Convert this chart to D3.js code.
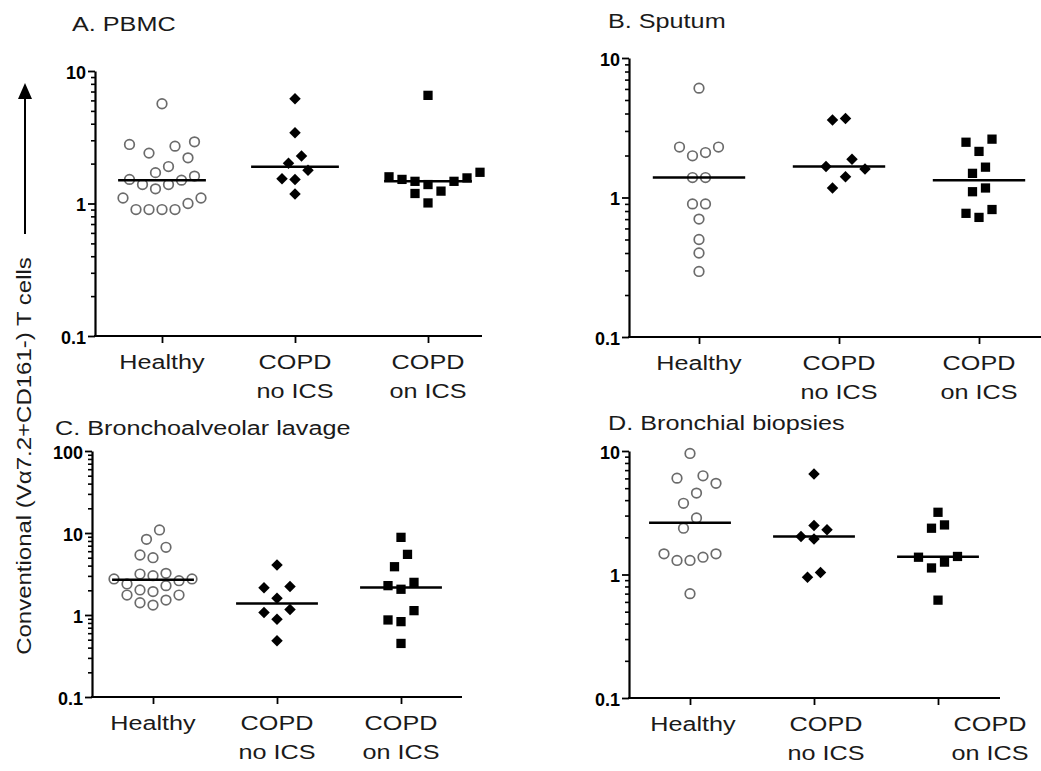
<!DOCTYPE html>
<html>
<head>
<meta charset="utf-8">
<script src="https://cdn.jsdelivr.net/npm/d3@7"></script>
<style>
body { margin: 0; background: #fff; }
svg { display: block; font-family: Arial, "Liberation Sans", sans-serif; }
</style>
</head>
<body>
<div class="canvas"></div>
<script>
// groups on the x axis ('|' = line break)
const groups = ['Healthy', 'COPD|no ICS', 'COPD|on ICS']
const ticksTen = [0.1, 1, 10]
const ticksHundred = [0.1, 1, 10, 100]
const yLabel = 'Conventional (V\u03b17.2+CD161-) T cells'

// A. PBMC
const pbmcHealthy = [5.66, 2.79, 2.71, 2.92, 2.40, 2.21, 1.90, 1.61, 1.52, 1.71, 1.50, 1.39, 1.39, 1.29, 1.10, 1.00, 1.10, 0.90, 0.90, 0.90, 0.90]
const pbmcNoIcs = [6.18, 3.42, 2.28, 2.01, 1.78, 1.54, 1.52, 1.18]
const pbmcOnIcs = [6.55, 1.59, 1.52, 1.47, 1.47, 1.56, 1.72, 1.39, 1.24, 1.19, 1.01]

// B. Sputum
const sputumHealthy = [6.08, 2.30, 2.30, 1.99, 2.10, 1.39, 1.39, 0.90, 0.90, 0.70, 0.50, 0.40, 0.295]
const sputumNoIcs = [3.60, 3.68, 1.88, 1.60, 1.67, 1.41, 1.17]
const sputumOnIcs = [2.49, 2.62, 2.14, 1.65, 1.49, 1.17, 1.10, 0.82, 0.77, 0.72]

// C. Bronchoalveolar lavage
const balHealthy = [10.9, 8.37, 6.69, 5.39, 5.00, 3.16, 3.22, 2.75, 2.62, 2.75, 3.02, 2.28, 2.39, 2.02, 1.75, 1.93, 1.75, 1.52, 1.41, 1.32]
const balNoIcs = [4.07, 2.22, 2.15, 1.60, 1.07, 1.17, 0.885, 0.486]
const balOnIcs = [8.85, 5.49, 3.88, 2.50, 2.28, 2.06, 1.13, 0.87, 0.83, 0.45]

// D. Bronchial biopsies
const biopsyHealthy = [9.55, 6.30, 6.03, 5.47, 4.56, 3.77, 2.87, 2.37, 1.47, 1.47, 1.30, 1.30, 1.38, 0.70]
const biopsyNoIcs = [6.50, 2.49, 2.30, 2.03, 1.94, 1.04, 0.95]
const biopsyOnIcs = [3.19, 2.37, 2.52, 1.40, 1.38, 1.26, 1.13, 0.62]

const panels = [
  { title: 'A. PBMC', ticks: ticksTen, series: [pbmcHealthy, pbmcNoIcs, pbmcOnIcs],
    axisX: 95, top: 71, bottom: 336, xEnd: 482, first: 162, last: 428, tx: 72, ty: 31, shift: [0, 0, 0] },
  { title: 'B. Sputum', ticks: ticksTen, series: [sputumHealthy, sputumNoIcs, sputumOnIcs],
    axisX: 629, top: 58, bottom: 337, xEnd: 1041, first: 699, last: 979, tx: 608, ty: 28, shift: [0, 0, 0] },
  { title: 'C. Bronchoalveolar lavage', ticks: ticksHundred, series: [balHealthy, balNoIcs, balOnIcs],
    axisX: 92, top: 451, bottom: 697, xEnd: 462, first: 153, last: 401, tx: 55, ty: 435, shift: [0, 0, 0] },
  { title: 'D. Bronchial biopsies', ticks: ticksTen, series: [biopsyHealthy, biopsyNoIcs, biopsyOnIcs],
    axisX: 629, top: 451, bottom: 698, xEnd: 1000, first: 690, last: 938, tx: 608, ty: 430, shift: [3, 12, 52] }
]

const wide = 1.2  // the figure's lettering runs wider than Arial

const svg = d3.select('.canvas')
  .append('svg')
  .attr('width', 1041)
  .attr('height', 771)

// spread points of similar value sideways, lowest in the middle of each row
function swarm(values, y, cx, step, near) {
  const pts = values.map(v => ({ v, py: y(v) })).sort((a, b) => b.py - a.py)
  const placed = []
  let i = 0
  while (i < pts.length) {
    let j = i + 1
    while (j < pts.length && pts[i].py - pts[j].py < near) j++
    const row = pts.slice(i, j)
    const slots = d3.range(row.length).map(k => k - (row.length - 1) / 2)
      .sort((a, b) => Math.abs(a) - Math.abs(b) || a - b)
    row.forEach((p, k) => {
      let s = slots[k]
      while (placed.some(q => Math.abs(q.s - s) < 0.9 && Math.abs(q.py - p.py) < 11)) s += s < 0 ? -1 : 1
      p.s = s
      placed.push(p)
    })
    i = j
  }
  return placed.map(p => ({ v: p.v, x: cx + p.s * step, y: p.py }))
}

const diamond = d3.symbol(d3.symbolSquare, 66)()
const square = d3.symbol(d3.symbolSquare, 86)()

panels.forEach(p => {
  const g = svg.append('g')

  const y = d3.scaleLog()
    .domain([p.ticks[0], p.ticks[p.ticks.length - 1]])
    .range([p.bottom, p.top])

  const x = d3.scalePoint()
    .domain(groups)
    .range([p.first, p.last])

  const step = x.step()

  // minor log ticks
  const minor = y.ticks().filter(t => Math.abs(Math.log10(t) - Math.round(Math.log10(t))) > 1e-6)
  g.append('g')
    .attr('transform', `translate(${p.axisX + 1}, 0)`)
    .call(d3.axisLeft(y).tickValues(minor).tickSize(5).tickFormat(''))
    .call(a => a.select('.domain').remove())
    .selectAll('line').attr('stroke-width', 1.6)

  // major ticks and axis line
  const yAxisGroup = g.append('g')
    .attr('transform', `translate(${p.axisX}, 0)`)
    .call(d3.axisLeft(y).tickValues(p.ticks).tickSize(7).tickSizeOuter(0).tickFormat(d3.format('~g')))
  yAxisGroup.select('.domain').attr('stroke-width', 2.2)
  yAxisGroup.selectAll('line').attr('stroke-width', 1.8)
  yAxisGroup.selectAll('text')
    .attr('x', -9)
    .attr('dy', '0.4em')
    .attr('font-family', 'Arial, "Liberation Sans", sans-serif')
    .attr('font-size', 18)
    .attr('font-weight', 'bold')
    .attr('fill', '#000')

  // x axis line
  g.append('line')
    .attr('x1', p.axisX - 1).attr('x2', p.xEnd)
    .attr('y1', p.bottom).attr('y2', p.bottom)
    .attr('stroke', '#000').attr('stroke-width', 2.2)

  const xAxisGroup = g.append('g')
    .attr('transform', `translate(0, ${p.bottom})`)
    .call(d3.axisBottom(x).tickSize(7).tickFormat(''))
  xAxisGroup.select('.domain').remove()
  xAxisGroup.selectAll('line').attr('stroke-width', 1.8)

  // category labels
  groups.forEach((name, i) => {
    const t = g.append('text')
      .attr('transform', `translate(${x(name) + p.shift[i]}, ${p.bottom + 33}) scale(${wide}, 1)`)
      .attr('text-anchor', 'middle')
      .attr('font-size', 21)
      .attr('fill', '#1a1a1a')
    name.split('|').forEach((line, k) => {
      t.append('tspan').attr('x', 0).attr('dy', k ? 29 : 0).text(line)
    })
  })

  // title
  g.append('text')
    .attr('transform', `translate(${p.tx}, ${p.ty}) scale(${wide}, 1)`)
    .attr('font-size', 21)
    .attr('fill', '#1a1a1a')
    .text(p.title)

  // points and medians
  p.series.forEach((vals, i) => {
    const cx = x(groups[i])
    const pts = swarm(vals, y, cx, 13, 13)

    if (i === 0) {
      g.selectAll(null).data(pts).enter()
        .append('circle')
        .attr('cx', d => d.x)
        .attr('cy', d => d.y)
        .attr('r', 4.8)
        .attr('fill', '#fff')
        .attr('stroke', '#6b6b6b')
        .attr('stroke-width', 1.7)
    } else {
      g.selectAll(null).data(pts).enter()
        .append('path')
        .attr('d', i === 1 ? diamond : square)
        .attr('transform', d => `translate(${d.x}, ${d.y})` + (i === 1 ? ' rotate(45)' : ''))
        .attr('fill', '#000')
    }

    const med = d3.median(vals)
    g.append('line')
      .attr('x1', cx - step * 0.33).attr('x2', cx + step * 0.33)
      .attr('y1', y(med)).attr('y2', y(med))
      .attr('stroke', '#000')
      .attr('stroke-width', 2.5)
  })
})

// shared y label and arrow
svg.append('text')
  .attr('transform', `translate(31, 456) rotate(-90) scale(${wide}, 1)`)
  .attr('text-anchor', 'middle')
  .attr('font-size', 20)
  .attr('fill', '#1a1a1a')
  .text(yLabel)

svg.append('line')
  .attr('x1', 25).attr('x2', 25)
  .attr('y1', 234).attr('y2', 95)
  .attr('stroke', '#000').attr('stroke-width', 2)

svg.append('path')
  .attr('d', d3.line()([[25, 83], [18, 99], [32, 99]]) + 'Z')
  .attr('fill', '#000')
</script>
</body>
</html>
